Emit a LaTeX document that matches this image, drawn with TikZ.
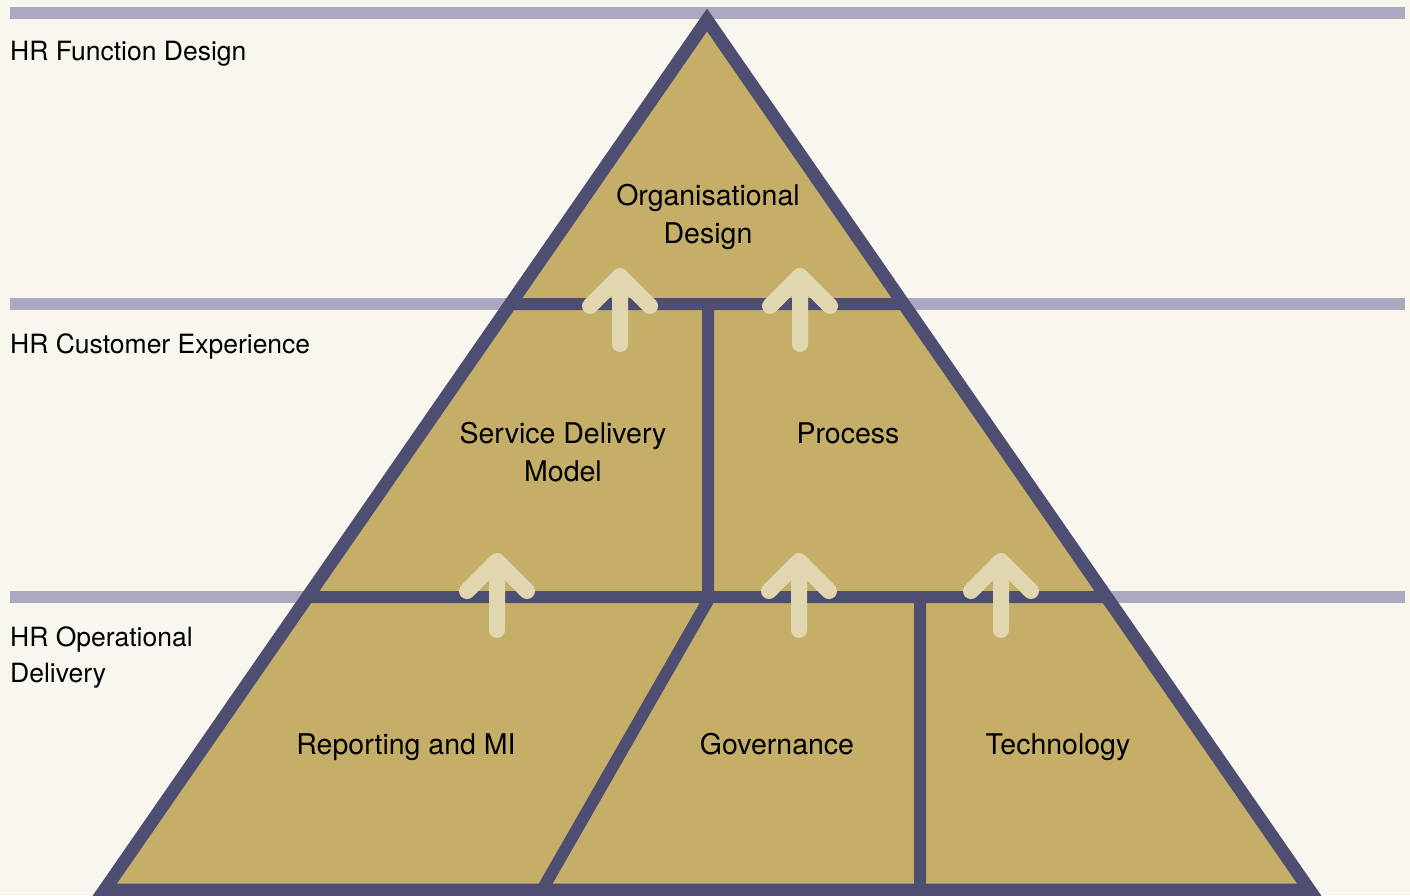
\documentclass[tikz,border=0pt]{standalone}
\usepackage{fontspec}
\setmainfont{TeX Gyre Heros}
\definecolor{paper}{HTML}{F9F6EF}
\definecolor{band}{HTML}{ABA9BF}
\definecolor{gold}{HTML}{C5AE68}
\definecolor{frame}{HTML}{4E4D72}
\definecolor{cream}{HTML}{E0D6B0}
\tikzset{
  sidelabel/.style={anchor=base west, align=left, inner sep=0pt, font=\fontsize{26.5}{36}\selectfont},
  blocklabel/.style={anchor=base, align=center, inner sep=0pt, font=\fontsize{28.5}{38}\selectfont},
  uparrow/.style={color=cream, line width=16pt, line cap=round, line join=round}
}
\begin{document}
\begin{tikzpicture}[x=1pt,y=-1pt]
\useasboundingbox (0,0) rectangle (1410,895);
\fill[paper] (0,0) rectangle (1410,895);

% level bands
\draw[color=band, line width=12pt] (10,13) -- (1405,13) (10,304) -- (1405,304) (10,597) -- (1405,597);

% pyramid
\fill[gold] (707,20) -- (104.5,890) -- (1309.5,890) -- cycle;
\draw[color=frame, line width=12pt] (510,304) -- (904,304) (307,597) -- (1107,597)
(708,304) -- (708,597) (710,597) -- (542,890) (920,597) -- (920,890);
\draw[color=frame, line width=13pt] (707,20) -- (104.5,890) -- (1309.5,890) -- cycle;

% arrows
\draw[uparrow] (620,344) -- (620,276) (590,306) -- (620,276) -- (650,306);
\draw[uparrow] (800,344) -- (800,276) (770,306) -- (800,276) -- (830,306);
\draw[uparrow] (497,630) -- (497,561) (467,591) -- (497,561) -- (527,591);
\draw[uparrow] (799,630) -- (799,561) (769,591) -- (799,561) -- (829,591);
\draw[uparrow] (1001,630) -- (1001,561) (971,591) -- (1001,561) -- (1031,591);

% left labels (base = last line)
\node[sidelabel] (fd) at (10,60) {HR Function Design};
\node[sidelabel] (ce) at (10,353) {HR Customer Experience};
\node[sidelabel] (od) at (10,682) {HR Operational\\Delivery};

% blocks
\node[blocklabel] (org) at (708,243) {Organisational\\Design};
\node[blocklabel] (sdm) at (563,481) {Service Delivery\\Model};
\node[blocklabel] (proc) at (848,443) {Process};
\node[blocklabel] (rep) at (406,754) {Reporting and MI};
\node[blocklabel] (gov) at (777,754) {Governance};
\node[blocklabel] (tech) at (1058,754) {Technology};
\end{tikzpicture}
\end{document}
